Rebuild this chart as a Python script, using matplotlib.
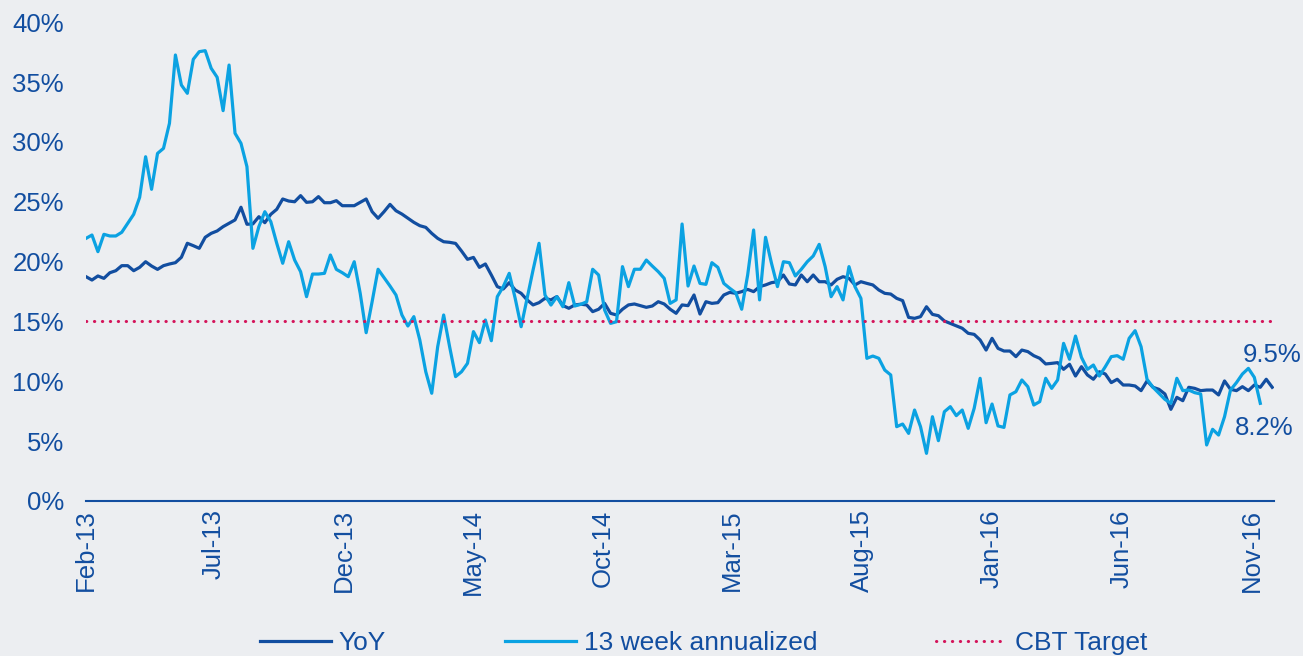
import pandas as pd
import matplotlib
matplotlib.use("Agg")
from matplotlib import pyplot as plt
import matplotlib.dates as mdates
from matplotlib.ticker import FuncFormatter

# weekly series, first week = Feb 2013
yoy = [
    18.74, 18.46, 18.80, 18.60, 19.07, 19.24, 19.66, 19.66, 19.24, 19.52,
    19.99, 19.63, 19.35, 19.66, 19.80, 19.91, 20.36, 21.53, 21.33, 21.11,
    22.03, 22.36, 22.56, 22.92, 23.20, 23.48, 24.54, 23.12, 23.15, 23.75,
    23.25, 23.95, 24.37, 25.23, 25.06, 25.00, 25.51, 24.95, 25.00, 25.43,
    24.92, 24.92, 25.09, 24.67, 24.67, 24.67, 24.95,
    25.23, 24.17, 23.62, 24.17, 24.78, 24.25, 23.97, 23.62, 23.28, 23.00,
    22.86, 22.36, 21.94, 21.66, 21.61, 21.52, 20.88, 20.19, 20.35, 19.52,
    19.80, 18.88, 17.91, 17.71, 18.24, 17.63, 17.35, 16.80, 16.38, 16.57,
    16.93, 16.80, 17.08, 16.33, 16.10, 16.38, 16.44, 16.38, 15.82, 16.02,
    16.51, 15.68, 15.54, 16.02, 16.38, 16.46, 16.32, 16.18, 16.29, 16.65,
    16.46, 16.02, 15.68, 16.38, 16.32, 17.21, 15.62, 16.65, 16.51, 16.57,
    17.21, 17.43, 17.35, 17.49, 17.68, 17.49, 17.91, 18.05, 18.24, 18.32,
    18.88, 18.13, 18.05, 18.88, 18.32, 18.88, 18.32, 18.32, 18.05, 18.52,
    18.74, 18.60, 18.05, 18.32,
    18.18, 18.05, 17.63, 17.35, 17.29, 16.93, 16.74, 15.34, 15.26, 15.40,
    16.23, 15.59, 15.48, 15.04, 14.84, 14.65, 14.43, 14.01, 13.92, 13.45,
    12.61, 13.59, 12.75, 12.53, 12.53, 12.06, 12.61, 12.48, 12.14, 11.92,
    11.45, 11.50, 11.56, 11.00, 11.42, 10.44, 11.22, 10.53, 10.17, 10.80,
    10.61, 9.89, 10.17, 9.69, 9.69,
    9.61, 9.22, 10.03, 9.50, 9.33, 8.94, 7.66, 8.66, 8.38, 9.50,
    9.41, 9.22, 9.27, 9.27, 8.86, 10.03, 9.33, 9.22, 9.55, 9.22,
    9.69, 9.50, 10.17, 9.50,
]

week13 = [
    21.94, 22.22, 20.83, 22.28, 22.14, 22.14, 22.45, 23.20, 23.95, 25.37,
    28.76, 26.04, 29.04, 29.46, 31.55, 37.26, 34.75, 34.06, 36.90, 37.54,
    37.62, 36.15, 35.40, 32.61, 36.42, 30.72, 29.88, 27.93, 21.11, 22.92,
    24.17, 23.34, 21.53, 19.86, 21.66, 20.13, 19.16, 17.07, 18.96, 18.96,
    19.02, 20.55, 19.35, 19.07, 18.74, 19.99, 17.35,
    14.06, 16.65, 19.36, 18.66, 17.96, 17.21, 15.54, 14.62, 15.40, 13.45,
    10.80, 9.00, 12.89, 15.54, 12.89, 10.39, 10.80, 11.50, 14.15, 13.23,
    15.12, 13.39, 17.07, 17.91, 19.02, 16.93, 14.56, 16.93, 19.30, 21.53,
    17.21, 16.37, 17.07, 16.23, 18.24, 16.29, 16.43, 16.65, 19.36, 18.88,
    15.96, 14.84, 14.98, 19.58, 17.91, 19.36, 19.36, 20.13, 19.63, 19.16,
    18.60, 16.51, 16.80, 23.14, 17.96, 19.63, 18.18, 18.10, 19.91, 19.52,
    18.18, 17.77, 17.40, 16.02, 18.88, 22.64, 16.80, 22.03, 19.86, 17.91,
    19.99, 19.91, 18.80, 19.36, 19.99, 20.47, 21.44, 19.58, 17.07, 17.91,
    16.80, 19.58, 17.91, 16.93,
    11.92, 12.11, 11.92, 10.94, 10.53, 6.21, 6.43, 5.65, 7.60, 6.21,
    3.98, 7.04, 5.04, 7.46, 7.88, 7.13, 7.60, 6.07, 7.74, 10.25,
    6.54, 8.10, 6.27, 6.15, 8.86, 9.13, 10.11, 9.55, 8.02, 8.30,
    10.25, 9.41, 10.11, 13.17, 11.84, 13.78, 12.00, 11.00, 11.36, 10.44,
    11.22, 12.06, 12.14, 11.84, 13.59,
    14.23, 12.89, 10.17, 9.50, 8.99, 8.49, 8.16, 10.25, 9.22, 9.27,
    9.05, 8.94, 4.68, 5.99, 5.51, 7.04, 9.27, 9.89, 10.61, 11.08,
    10.33, 8.16,
]

cbt_target = 15
yoy_label = "9.5%"
week13_label = "8.2%"

dates = pd.date_range("2013-02-01", periods=len(yoy), freq="7D")
tick_dates = pd.date_range("2013-02-01", "2016-11-01", freq="5MS")

bg = "#ECEEF1"
dark = "#124EA0"
light = "#0BA2E2"
red = "#D4145A"

plt.rcParams["font.family"] = ["Liberation Sans", "DejaVu Sans"]

fig = plt.figure(figsize=(13.03, 6.56), dpi=100, facecolor=bg)
ax = fig.add_axes([86 / 1303, 1 - 501 / 656, (1274 - 86) / 1303, 478.8 / 656])
ax.set_facecolor(bg)

ax.plot(dates, yoy, color=dark, lw=2.3, label="YoY", solid_joinstyle="round")
ax.plot(dates[:len(week13)], week13, color=light, lw=2.3,
        label="13 week annualized", solid_joinstyle="round")
ax.axhline(cbt_target, color=red, lw=2.2, linestyle=(0, (0.1, 2.5)),
           dash_capstyle="round", label="CBT Target")

ax.annotate(yoy_label, (dates[len(yoy) - 1], yoy[-1]), xytext=(-29, 32),
            textcoords="offset pixels", color=dark, fontsize=18.5, va="center")
ax.annotate(week13_label, (dates[len(week13) - 1], week13[-1]), xytext=(-25, -25),
            textcoords="offset pixels", color=dark, fontsize=18.5, va="center")

# Formatar o grafico
ax.set_ylim(0, 40)
ax.set_yticks(range(0, 41, 5))
ax.yaxis.set_major_formatter(FuncFormatter(lambda v, p: f"{int(v)}%"))
ax.set_xlim(dates[0], dates[0] + pd.Timedelta(days=7 * 199.3))
ax.set_xticks(tick_dates)
ax.xaxis.set_major_formatter(mdates.DateFormatter("%b-%y"))
for lbl in ax.get_xticklabels():
    lbl.set_rotation(90)

ax.tick_params(axis="both", length=0, labelsize=18.5, labelcolor=dark)
ax.tick_params(axis="y", pad=16)
ax.tick_params(axis="x", pad=6)
for side in ["top", "right", "left"]:
    ax.spines[side].set_visible(False)
ax.spines["bottom"].set_color(dark)
ax.spines["bottom"].set_linewidth(1.5)

leg = fig.legend(loc="center", bbox_to_anchor=(0.54, 0.02), ncol=3, frameon=False,
                 fontsize=19, handlelength=2.7, handletextpad=0.3, columnspacing=4.5)
for t in leg.get_texts():
    t.set_color(dark)

fig.savefig("out.png", dpi=100, facecolor=bg)
